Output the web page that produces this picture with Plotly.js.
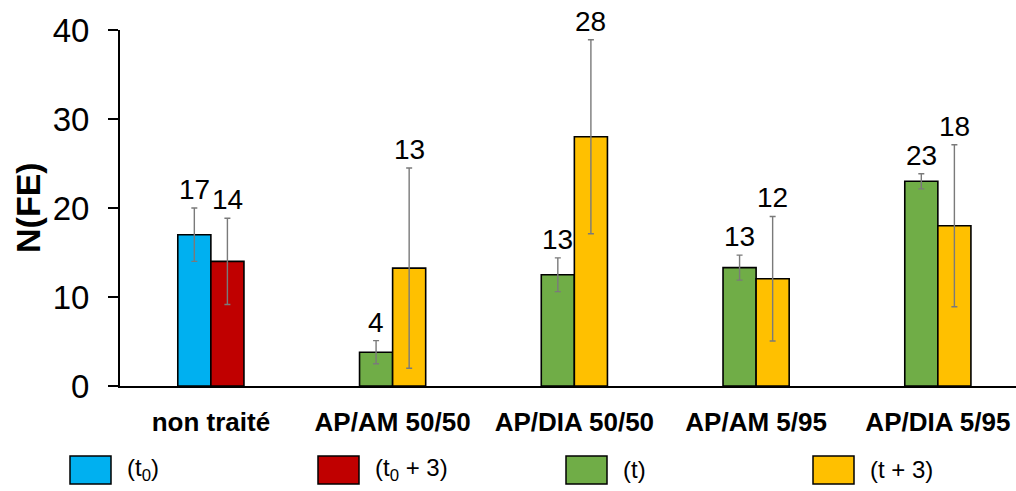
<!DOCTYPE html>
<html>
<head>
<meta charset="utf-8">
<script src="https://cdn.plot.ly/plotly-3.0.1.min.js"></script>
<style>html,body{margin:0;padding:0;background:#fff}#chart{width:1016px;height:491px}</style>
</head>
<body>
<div id="chart"></div>
<script>
// ---- data ----
const categories = ['non traité', 'AP/AM 50/50', 'AP/DIA 50/50', 'AP/AM 5/95', 'AP/DIA 5/95'];
const seriesNames = ['(t<sub>0</sub>)', '(t<sub>0</sub> + 3)', '(t)', '(t + 3)'];
const seriesColors = ['#00b0f0', '#c00000', '#70ad47', '#ffc000'];

const t0Cats = ['non traité'];
const t0Values = [17];
const t0Err = [3];
const t0Labels = ['17'];

const t0p3Cats = ['non traité'];
const t0p3Values = [14];
const t0p3Err = [4.85];
const t0p3Labels = ['14'];

const tCats = ['AP/AM 50/50', 'AP/DIA 50/50', 'AP/AM 5/95', 'AP/DIA 5/95'];
const tValues = [3.8, 12.5, 13.3, 23];
const tErr = [1.3, 1.9, 1.4, 0.85];
const tLabels = ['4', '13', '13', '23'];

const tp3Cats = ['AP/AM 50/50', 'AP/DIA 50/50', 'AP/AM 5/95', 'AP/DIA 5/95'];
const tp3Values = [13.25, 28, 12.05, 18];
const tp3Err = [11.25, 10.9, 7.0, 9.1];
const tp3Labels = ['13', '28', '12', '18'];

// ---- chart ----
const BW = 0.182;
const FONT = 'Liberation Sans, Arial, sans-serif';

function barTrace(cats, vals, errs, color, name, side) {
  return {
    type: 'bar', x: cats, y: vals, name: name, showlegend: false,
    width: cats.map(() => BW),
    offset: cats.map(() => side < 0 ? -BW : 0),
    marker: {color: color, line: {color: '#000', width: 1.6}},
    error_y: {type: 'data', array: errs, visible: true, color: '#7a7a7a', thickness: 1.4, width: 3}
  };
}

const groups = [
  [t0Cats, t0Values, t0Err, t0Labels, -1],
  [t0p3Cats, t0p3Values, t0p3Err, t0p3Labels, 1],
  [tCats, tValues, tErr, tLabels, -1],
  [tp3Cats, tp3Values, tp3Err, tp3Labels, 1]
];

const data = groups.map((g, i) => barTrace(g[0], g[1], g[2], seriesColors[i], seriesNames[i], g[4]));

const annotations = [];
groups.forEach(g => {
  g[0].forEach((c, j) => {
    annotations.push({
      x: categories.indexOf(c) + g[4] * BW / 2, xref: 'x',
      y: g[1][j] + g[2][j], yref: 'y',
      text: g[3][j], showarrow: false, yanchor: 'bottom', yshift: 1,
      font: {family: FONT, size: 28, color: '#000'}
    });
  });
});

// y-axis title
annotations.push({
  xref: 'paper', yref: 'paper', x: 0, y: 0.5, xshift: -92, xanchor: 'center', yanchor: 'middle',
  text: '<b>N(FE)</b>', textangle: -90, showarrow: false,
  font: {family: FONT, size: 34, color: '#000'}
});

// legend (drawn as boxes + text)
const shapes = [];
const PLOT_L = 120, PLOT_W = 896, PLOT_B = 386, PLOT_H = 356;
const px2x = p => (p - PLOT_L) / PLOT_W;
const py2y = p => (PLOT_B - p) / PLOT_H;
const legendStart = [70, 318, 566, 813];
seriesNames.forEach((n, i) => {
  shapes.push({
    type: 'rect', xref: 'paper', yref: 'paper',
    x0: px2x(legendStart[i]), x1: px2x(legendStart[i] + 41),
    y0: py2y(456), y1: py2y(484),
    fillcolor: seriesColors[i], line: {color: '#000', width: 1.5}
  });
  annotations.push({
    xref: 'paper', yref: 'paper', x: px2x(legendStart[i] + 55), y: py2y(470),
    xanchor: 'left', yanchor: 'middle', text: n, showarrow: false,
    font: {family: FONT, size: 24, color: '#000'}
  });
});

const layout = {
  width: 1016, height: 491,
  margin: {l: 120, r: 0, t: 30, b: 105},
  paper_bgcolor: '#fff', plot_bgcolor: '#fff',
  font: {family: FONT, color: '#000'},
  barmode: 'overlay',
  showlegend: false,
  xaxis: {
    type: 'category', categoryorder: 'array', categoryarray: categories,
    range: [-0.5, 4.43], showgrid: false, zeroline: false,
    showline: true, linecolor: '#000', linewidth: 1.6,
    ticks: '', ticklabelstandoff: 12,
    tickfont: {family: FONT, size: 26, color: '#000', weight: 'bold'}
  },
  yaxis: {
    range: [0, 40], dtick: 10, showgrid: false, zeroline: false,
    showline: true, linecolor: '#000', linewidth: 2,
    ticks: 'outside', ticklen: 10, tickwidth: 1.6, tickcolor: '#000',
    ticklabelstandoff: 12,
    tickfont: {family: FONT, size: 33, color: '#000'}
  },
  annotations: annotations,
  shapes: shapes
};

Plotly.newPlot('chart', data, layout, {displayModeBar: false, staticPlot: true});
</script>
</body>
</html>
